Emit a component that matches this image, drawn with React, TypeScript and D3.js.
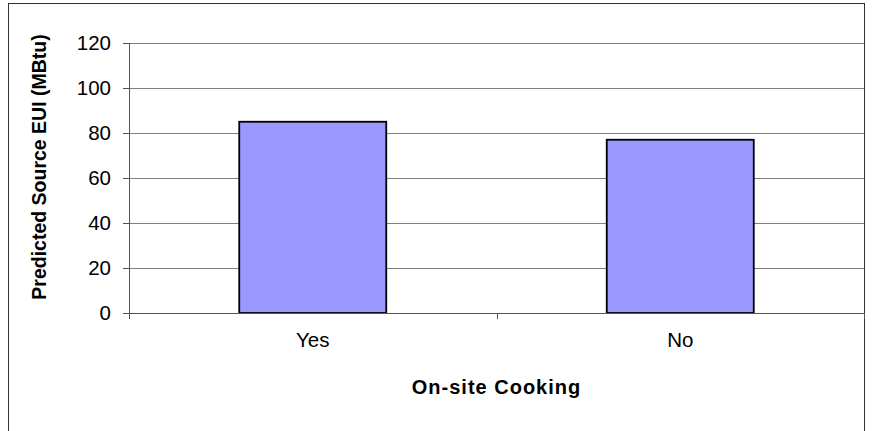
import React from "react";
import * as d3 from "d3";

const categories = ["Yes", "No"];
const values = [85, 77];
const yTicks = [0, 20, 40, 60, 80, 100, 120];
const yTitle = "Predicted Source EUI (MBtu)";
const xTitle = "On-site Cooking";

export default function App() {
  const W = 872, H = 431;
  const left = 129, right = 864, top = 43, bottom = 313;
  const x = d3.scaleBand<string>().domain(categories).range([left, right]).paddingInner(0.6).paddingOuter(0.3);
  const xb = d3.scaleBand<string>().domain(categories).range([left, right]);
  const y = d3.scaleLinear().domain([0, 120]).range([bottom, top]);
  const font = "Arial, 'Liberation Sans', Helvetica, sans-serif";
  return (
    <svg width={W} height={H} style={{ position: "absolute", left: 0, top: 0 }}>
      <rect x={0} y={0} width={W} height={H} fill="#fff" />
      <rect x={8.5} y={3.5} width={856} height={440} fill="#fff" stroke="#333" strokeWidth={1} />
      {yTicks.filter(t => t > 0).map(t => (
        <line key={t} x1={left} x2={right} y1={Math.round(y(t)) + 0.5} y2={Math.round(y(t)) + 0.5} stroke="#808080" strokeWidth={1} />
      ))}
      {categories.map((c, i) => (
        <rect key={c} x={x(c)} y={y(values[i])} width={x.bandwidth()} height={bottom - y(values[i])} fill="#9999FF" stroke="#000" strokeWidth={1.8} />
      ))}
      <line x1={left + 0.5} x2={left + 0.5} y1={top} y2={bottom + 6} stroke="#555" />
      <line x1={left - 6} x2={right} y1={bottom + 0.5} y2={bottom + 0.5} stroke="#555" />
      {yTicks.map(t => (
        <g key={t}>
          <line x1={left - 6} x2={left} y1={Math.round(y(t)) + 0.5} y2={Math.round(y(t)) + 0.5} stroke="#555" />
          <text x={left - 18} y={y(t)} dy="0.36em" textAnchor="end" fontFamily={font} fontSize={20.5} fill="#000">{t}</text>
        </g>
      ))}
      {[...categories.map(c => xb(c) as number), right].map((v, i) => (
        <line key={i} x1={Math.round(v) + 0.5} x2={Math.round(v) + 0.5} y1={bottom} y2={bottom + 6} stroke="#555" />
      ))}
      {categories.map(c => (
        <text key={c} x={(xb(c) as number) + xb.bandwidth() / 2} y={347} textAnchor="middle" fontFamily={font} fontSize={20.5} fill="#000">{c}</text>
      ))}
      <text x={(left + right) / 2} y={394} textAnchor="middle" fontFamily={font} fontWeight="bold" fontSize={20} letterSpacing={1} fill="#000">{xTitle}</text>
      <text transform={`translate(46,167) rotate(-90)`} textAnchor="middle" fontFamily={font} fontWeight="bold" fontSize={19.5} fill="#000">{yTitle}</text>
    </svg>
  );
}
